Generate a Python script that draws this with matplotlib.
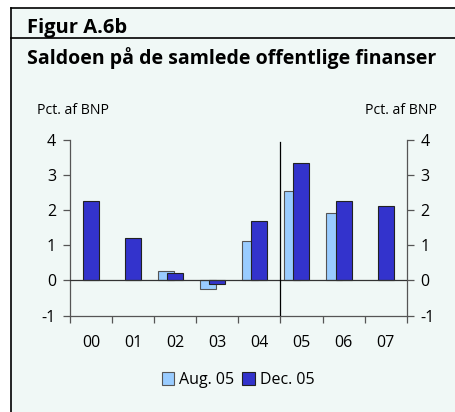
import matplotlib
matplotlib.use("Agg")
import matplotlib.pyplot as plt
import matplotlib.lines as mlines
import numpy as np

plt.rcParams['font.family'] = ['Open Sans', 'DejaVu Sans']
plt.rcParams['axes.unicode_minus'] = False

years = ['00', '01', '02', '03', '04', '05', '06', '07']
aug05 = [np.nan, np.nan, 0.27, -0.25, 1.11, 2.56, 1.93, np.nan]
dec05 = [2.27, 1.2, 0.2, -0.1, 1.7, 3.34, 2.26, 2.12]
yticks = [-1, 0, 1, 2, 3, 4]

bg = '#f0f8f6'
light = '#99ccff'
dark = '#3333cc'

fig = plt.figure(figsize=(4.56, 4.12), dpi=100)
fig.patch.set_facecolor('white')

# panel background and frame lines
fig.patches.append(plt.Rectangle((11 / 456, 0), 1, 1 - 8 / 412, transform=fig.transFigure,
                                 facecolor=bg, edgecolor='none', zorder=-5))
fig.lines.append(mlines.Line2D([11 / 456, 1], [1 - 8 / 412, 1 - 8 / 412], transform=fig.transFigure,
                               color='black', lw=1.2))
fig.lines.append(mlines.Line2D([11 / 456, 1], [1 - 38 / 412, 1 - 38 / 412], transform=fig.transFigure,
                               color='black', lw=1.2))
fig.lines.append(mlines.Line2D([11 / 456, 11 / 456], [0, 1 - 8 / 412], transform=fig.transFigure,
                               color='black', lw=1.2))

fig.text(27 / 456, 1 - 33 / 412, 'Figur A.6b', fontsize=14.5, fontweight='bold', va='baseline', ha='left')
fig.text(27 / 456, 1 - 58 / 412, 'Saldoen på de samlede offentlige finanser', fontsize=14,
         fontweight='bold', va='center', ha='left')
fig.text(37 / 456, 1 - 110 / 412, 'Pct. af BNP', fontsize=10.2, va='center', ha='left')
fig.text(437 / 456, 1 - 110 / 412, 'Pct. af BNP', fontsize=10.2, va='center', ha='right')

ax = fig.add_axes([70 / 456, 1 - 315.5 / 412, 336.7 / 456, 175.5 / 412])
ax.set_facecolor('none')
ax.set_zorder(5)

x = np.arange(len(years))
w = 0.38
ax.bar(x - 0.22, aug05, w, color=light, edgecolor='#555555', linewidth=0.8, zorder=2,
       label='Aug. 05')
ax.bar(x, dec05, w, color=dark, edgecolor='#222222', linewidth=0.8, zorder=3, label='Dec. 05')

ax.axhline(0, color='#333333', lw=0.9, zorder=4)
ax.plot([4.5, 4.5], [-1, 3.95], color='black', lw=0.9, zorder=4)

ax.set_xlim(-0.5, len(years) - 0.5)
ax.set_ylim(-1, 4)

ax.spines['top'].set_visible(False)
for s in ['left', 'right', 'bottom']:
    ax.spines[s].set_color('#555555')
    ax.spines[s].set_linewidth(0.9)

ax.set_yticks(yticks)
ax.tick_params(axis='y', which='both', direction='out', length=5, width=0.9, color='#555555',
               labelsize=11.5, left=True, right=True, labelleft=True, labelright=True, pad=5)
ax.set_xticks(np.arange(-0.5, len(years), 1.0))
ax.set_xticklabels([])
ax.set_xticks(x, minor=True)
ax.set_xticklabels(years, minor=True)
ax.tick_params(axis='x', which='major', direction='out', length=5, width=0.9, color='#555555')
ax.tick_params(axis='x', which='minor', length=0, labelsize=11.5, pad=14)

leg = ax.legend(loc='center', bbox_to_anchor=(238 / 456, 1 - 380 / 412),
                bbox_transform=fig.transFigure, ncol=2, frameon=False, fontsize=11.5,
                handlelength=0.8, handleheight=0.8, handletextpad=0.3, columnspacing=0.5)

fig.savefig('out.png', dpi=100, facecolor=fig.get_facecolor())
